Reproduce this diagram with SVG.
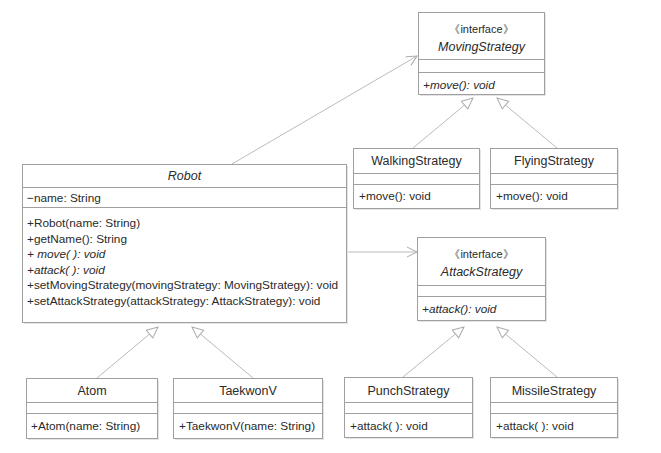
<svg xmlns="http://www.w3.org/2000/svg" width="661" height="453" viewBox="0 0 661 453">
<defs>
<style>
.sh{fill:#e4e4e4;}
.bx{fill:#fff;stroke:#a0a0a0;stroke-width:1;}
.dv{stroke:#a0a0a0;stroke-width:1;}
text{font-family:"Liberation Sans",Arial,sans-serif;fill:#2a2a2a;}
.t{font-size:12.5px;text-anchor:middle;}
.s{font-size:11px;text-anchor:middle;}
.m{font-size:11.8px;}
.i{font-style:italic;}
.ln{stroke:#bbb;stroke-width:1;fill:none;}
</style>
<marker id="tri" markerWidth="14" markerHeight="14" refX="12" refY="6" orient="auto" markerUnits="userSpaceOnUse">
<path d="M1,1 L12,6 L1,11 Z" fill="#fff" stroke="#aaa" stroke-width="1"/>
</marker>
<marker id="opn" markerWidth="14" markerHeight="14" refX="11" refY="6" orient="auto" markerUnits="userSpaceOnUse">
<path d="M1,1 L11,6 L1,11" fill="none" stroke="#aaa" stroke-width="1"/>
</marker>
</defs>
<rect width="661" height="453" fill="#fff"/>
<g id="connectors">
<line class="ln" x1="232" y1="164" x2="417" y2="56" marker-end="url(#opn)"/>
<line class="ln" x1="346" y1="252" x2="417" y2="252" marker-end="url(#opn)"/>
<line class="ln" x1="413" y1="148" x2="473" y2="98" marker-end="url(#tri)"/>
<line class="ln" x1="557" y1="148" x2="497" y2="98" marker-end="url(#tri)"/>
<line class="ln" x1="403" y1="377" x2="464" y2="327" marker-end="url(#tri)"/>
<line class="ln" x1="557" y1="377" x2="497" y2="327" marker-end="url(#tri)"/>
<line class="ln" x1="97" y1="378" x2="158" y2="327" marker-end="url(#tri)"/>
<line class="ln" x1="253" y1="378" x2="192" y2="327" marker-end="url(#tri)"/>
</g>
<g id="MovingStrategy">
<rect class="sh" x="420" y="14" width="126" height="82"/>
<rect class="bx" x="418.5" y="12.5" width="126" height="82"/>
<line class="dv" x1="418.5" y1="59.5" x2="544.5" y2="59.5"/>
<line class="dv" x1="418.5" y1="72.5" x2="544.5" y2="72.5"/>
<text class="s" x="481.5" y="33">《interface》</text>
<text class="t i" x="481.5" y="51">MovingStrategy</text>
<text class="m i" x="423" y="89">+move(): void</text>
</g>
<g id="WalkingStrategy">
<rect class="sh" x="355" y="150" width="126" height="60"/>
<rect class="bx" x="353.5" y="148.5" width="126" height="60"/>
<line class="dv" x1="353.5" y1="173.5" x2="479.5" y2="173.5"/>
<line class="dv" x1="353.5" y1="184.5" x2="479.5" y2="184.5"/>
<text class="t" x="416.5" y="165">WalkingStrategy</text>
<text class="m" x="359" y="200">+move(): void</text>
</g>
<g id="FlyingStrategy">
<rect class="sh" x="492" y="150" width="127" height="60"/>
<rect class="bx" x="490.5" y="148.5" width="127" height="60"/>
<line class="dv" x1="490.5" y1="173.5" x2="617.5" y2="173.5"/>
<line class="dv" x1="490.5" y1="184.5" x2="617.5" y2="184.5"/>
<text class="t" x="554" y="165">FlyingStrategy</text>
<text class="m" x="496" y="200">+move(): void</text>
</g>
<g id="Robot">
<rect class="sh" x="24" y="166" width="324" height="158"/>
<rect class="bx" x="22.5" y="164.5" width="324" height="158"/>
<line class="dv" x1="22.5" y1="187.5" x2="346.5" y2="187.5"/>
<line class="dv" x1="22.5" y1="207.5" x2="346.5" y2="207.5"/>
<text class="t i" x="184.5" y="180">Robot</text>
<text class="m" x="27" y="202">−name: String</text>
<text class="m" x="27" y="227">+Robot(name: String)</text>
<text class="m" x="27" y="243">+getName(): String</text>
<text class="m i" x="27" y="258">+ move( ): void</text>
<text class="m i" x="27" y="274">+attack( ): void</text>
<text class="m" x="27" y="289">+setMovingStrategy(movingStrategy: MovingStrategy): void</text>
<text class="m" x="27" y="305">+setAttackStrategy(attackStrategy: AttackStrategy): void</text>
</g>
<g id="AttackStrategy">
<rect class="sh" x="419" y="239" width="128" height="83"/>
<rect class="bx" x="417.5" y="237.5" width="128" height="83"/>
<line class="dv" x1="417.5" y1="285.5" x2="545.5" y2="285.5"/>
<line class="dv" x1="417.5" y1="296.5" x2="545.5" y2="296.5"/>
<text class="s" x="481.5" y="258">《interface》</text>
<text class="t i" x="481.5" y="276">AttackStrategy</text>
<text class="m i" x="422" y="313">+attack(): void</text>
</g>
<g id="Atom">
<rect class="sh" x="28" y="380" width="131" height="60"/>
<rect class="bx" x="26.5" y="378.5" width="131" height="60"/>
<line class="dv" x1="26.5" y1="402.5" x2="157.5" y2="402.5"/>
<line class="dv" x1="26.5" y1="413.5" x2="157.5" y2="413.5"/>
<text class="t" x="92" y="395">Atom</text>
<text class="m" x="31" y="430">+Atom(name: String)</text>
</g>
<g id="TaekwonV">
<rect class="sh" x="175" y="380" width="149" height="60"/>
<rect class="bx" x="173.5" y="378.5" width="149" height="60"/>
<line class="dv" x1="173.5" y1="402.5" x2="322.5" y2="402.5"/>
<line class="dv" x1="173.5" y1="413.5" x2="322.5" y2="413.5"/>
<text class="t" x="248" y="395">TaekwonV</text>
<text class="m" x="179" y="430">+TaekwonV(name: String)</text>
</g>
<g id="PunchStrategy">
<rect class="sh" x="346" y="379" width="128" height="60"/>
<rect class="bx" x="344.5" y="377.5" width="128" height="60"/>
<line class="dv" x1="344.5" y1="402.5" x2="472.5" y2="402.5"/>
<line class="dv" x1="344.5" y1="413.5" x2="472.5" y2="413.5"/>
<text class="t" x="408.5" y="395">PunchStrategy</text>
<text class="m" x="350" y="430">+attack( ): void</text>
</g>
<g id="MissileStrategy">
<rect class="sh" x="492" y="379" width="127" height="60"/>
<rect class="bx" x="490.5" y="377.5" width="127" height="60"/>
<line class="dv" x1="490.5" y1="402.5" x2="617.5" y2="402.5"/>
<line class="dv" x1="490.5" y1="413.5" x2="617.5" y2="413.5"/>
<text class="t" x="554" y="395">MissileStrategy</text>
<text class="m" x="496" y="430">+attack( ): void</text>
</g>
</svg>
